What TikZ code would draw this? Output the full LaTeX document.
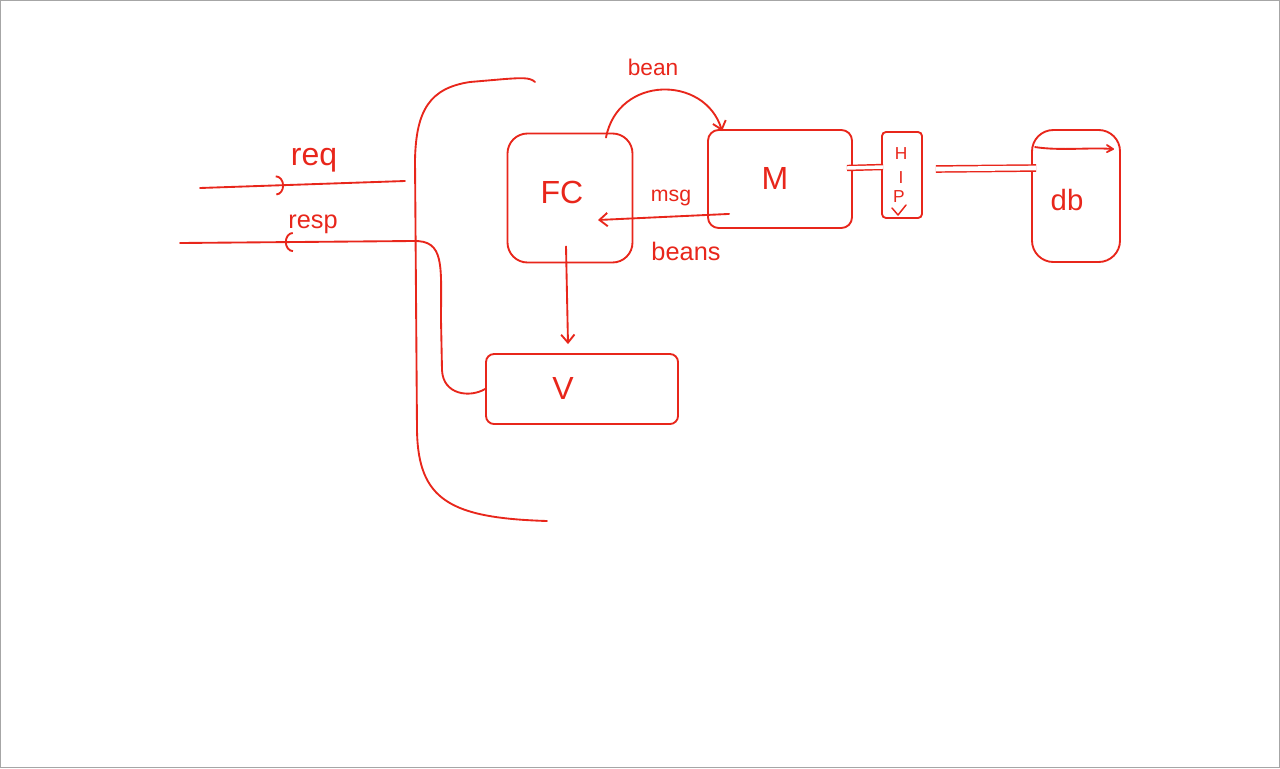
\documentclass[tikz,border=0pt]{standalone}
\usepackage{fontspec}
\setmainfont{Liberation Sans}
\usetikzlibrary{arrows.meta,calc,decorations.markings}
\definecolor{pen}{RGB}{232,38,27}
\begin{document}
\begin{tikzpicture}[x=0.75pt,y=-0.75pt,
  ink/.style={draw=pen,line width=1.4pt,line cap=round,line join=round},
  box/.style={ink,rectangle,inner sep=0pt},
  big/.style={text=pen,font=\fontsize{24}{26}\selectfont},
  lbl/.style={text=pen,font=\fontsize{16}{18}\selectfont,inner sep=0pt},
  tip/.style={-{Straight Barb[length=6pt,width=10pt]}},
  midarc/.style={postaction={decorate},decoration={markings,
     mark=at position #1 with {\arrow{Arc Barb[length=6pt,width=15pt,line width=1.4pt]}}}}
]
\useasboundingbox (0,0) rectangle (1280,768);
\draw[gray!70,line width=0.8pt] (0.5,0.5) rectangle (1279.5,767.5);

% boxes
\node[box,rounded corners=15pt,minimum width=93.75pt,minimum height=96.75pt] (FC) at (570,198) {};
\node[big] at (562,192) {FC};
\node[box,rounded corners=8pt,minimum width=108pt,minimum height=73.5pt] (M) at (780,179) {};
\node[big] at (775,178) {M};
\node[box,rounded corners=6pt,minimum width=144pt,minimum height=52.5pt] (V) at (582,389) {};
\node[big] at (563,388) {V};
\node[box,rounded corners=3pt,minimum width=30pt,minimum height=64.5pt] (HP) at (902,175) {};
\node[lbl,font=\fontsize{13}{14}\selectfont] at (901,154) {H};
\node[lbl,font=\fontsize{13}{14}\selectfont] at (901,178) {I};
\node[lbl,font=\fontsize{13}{14}\selectfont] at (899,197) {P};
\draw[ink,line width=1.1pt] (892,208) -- (898,215) -- (906,205);
\node[box,rounded corners=16pt,minimum width=66pt,minimum height=99pt] (db) at (1076,196) {};
\draw[ink] ($(db.north west)+(4,18)$) .. controls ($(db.north west)+(30,22)$) and ($(db.north east)+(-30,18)$) .. ($(db.north east)+(-8,20)$);
\draw[ink] ($(db.north east)+(-14,16)$) -- ($(db.north east)+(-8,20)$) -- ($(db.north east)+(-14,23)$);
\node[lbl,font=\fontsize{22}{24}\selectfont] at (1067,200) {db};

% request / response lines
\coordinate (reqs) at (200,188);
\coordinate (reqe) at (405,181);
\coordinate (resps) at (180,243);
\coordinate (respe) at (413,241);
\draw[ink,midarc=0.41] (reqs) -- (reqe);
\node[lbl,font=\fontsize{24}{26}\selectfont] at (314,160) {req};
\draw[ink,midarc=0.55] (respe) -- (resps);
\node[lbl,font=\fontsize{19}{21}\selectfont] at (313,224) {resp};

% bracket
\coordinate (brs) at (535,82);
\coordinate (bre) at (547,521);
\draw[ink] (brs) .. controls (530,77) and (520,78) .. (505,79) -- (470,82)
  .. controls (430,88) and (416,110) .. (415,160) -- (417,430)
  .. controls (418,500) and (450,518) .. (bre);

% resp to V
\draw[ink] (respe) .. controls (445,240) and (441,265) .. (441,320) -- (442,370)
  .. controls (443,395) and (470,398) .. (V.west);

% bean arc
\draw[ink,tip] ($(FC.north)+(36,5)$) .. controls (618,75) and (705,75) .. ($(M.north west)+(15,2)$);
\node[lbl,font=\fontsize{17}{19}\selectfont] at (653,67) {bean};

% msg / beans
\draw[ink,tip] ($(M.south west)+(22,-15)$) -- ($(FC.center)+(28,22)$);
\node[lbl] at (671,198) {msg};
\node[lbl,font=\fontsize{19}{21}\selectfont] at (686,251) {beans};

% FC to V
\draw[ink,tip] ($(FC.south)+(-4,-17)$) -- ($(V.north)+(-14,-9)$);

% M to HP, HP to db
\draw[draw=pen,double=white,double distance=2.6pt,line width=1.1pt] ($(M.east)+(-6,-11)$) -- ($(HP.west)+(2,-8)$);
\draw[draw=pen,double=white,double distance=3.5pt,line width=1.1pt] ($(HP.east)+(13,-6)$) -- ($(db.west)+(5,-28)$);
\end{tikzpicture}
\end{document}
